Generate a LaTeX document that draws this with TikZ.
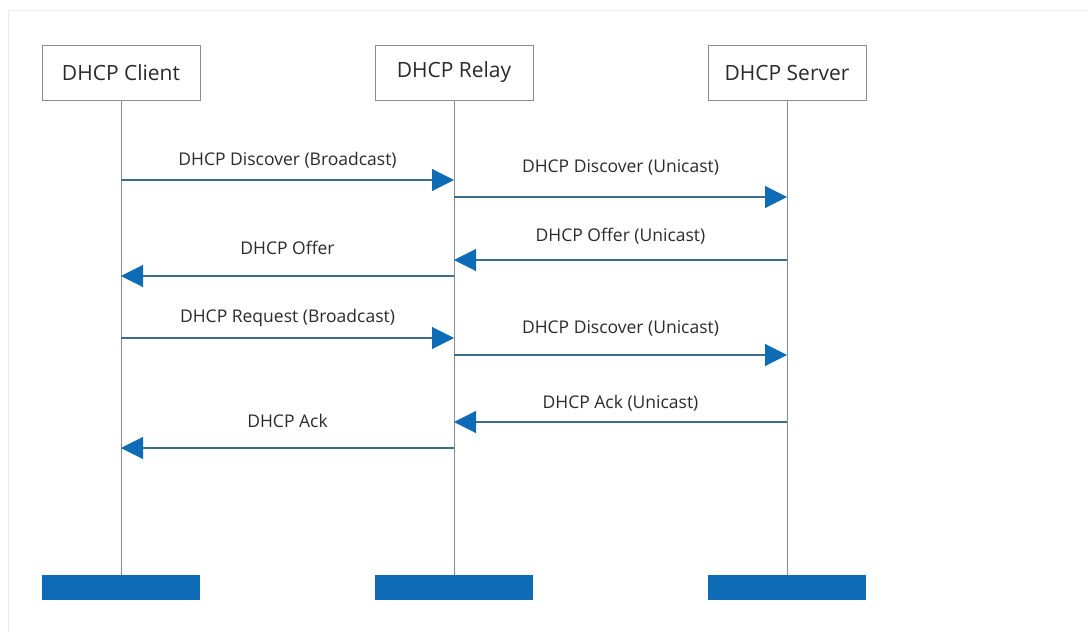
\documentclass[tikz,border=0pt]{standalone}
\usepackage{fontspec}
\setmainfont{Open Sans}
\usetikzlibrary{arrows.meta,calc}
\definecolor{dhcpBlue}{HTML}{0E6BB5}
\definecolor{dhcpLine}{HTML}{3B6C88}
\definecolor{dhcpGray}{HTML}{8C8C8C}
\definecolor{dhcpFrame}{HTML}{EBEBEB}
\definecolor{dhcpText}{HTML}{2A2A2A}
\tikzset{
  dhcp box/.style={draw=dhcpGray, line width=0.8pt, fill=white, minimum width=158pt, minimum height=55pt, inner sep=0pt, font=\fontsize{21}{24}\selectfont, text=dhcpText},
  dhcp bar/.style={fill=dhcpBlue, minimum width=158pt, minimum height=25pt, inner sep=0pt},
  dhcp life/.style={draw=dhcpGray, line width=0.9pt},
  dhcp msg/.style={draw=dhcpLine, line width=1.1pt, -{Triangle[length=22pt, width=22pt, color=dhcpBlue, fill=dhcpBlue]}},
  dhcp label/.style={font=\fontsize{17.5}{20}\selectfont, text=dhcpText, inner sep=0pt},
}

\begin{document}
\begin{tikzpicture}[x=1pt,y=-1pt]
  \useasboundingbox (0,0) rectangle (1088,632);
  \draw[dhcpFrame, line width=1pt] (8,632) -- (8,10) -- (1088,10);
  % participants and their lifelines
  \foreach \n/\x/\t in {client/121/DHCP Client, relay/454/DHCP Relay, server/787/DHCP Server} {
    \node[dhcp box] (\n) at (\x,72.5) {\t};
    \node[dhcp bar] (\n end) at (\x,587.5) {};
    \draw[dhcp life] (\n) -- (\n end);
  }
  % messages
  \foreach \a/\b/\y/\d/\t [count=\i] in {
      client/relay/180/20/DHCP Discover (Broadcast),
      relay/server/197/30/DHCP Discover (Unicast),
      server/relay/260/24/DHCP Offer (Unicast),
      relay/client/276/28/DHCP Offer,
      client/relay/338/20/DHCP Request (Broadcast),
      relay/server/355/27/DHCP Discover (Unicast),
      server/relay/422/19/DHCP Ack (Unicast),
      relay/client/448/27/DHCP Ack} {
    \coordinate (m\i from) at (\a |- 0,\y);
    \coordinate (m\i to) at (\b |- 0,\y);
    \draw[dhcp msg] (m\i from) -- (m\i to);
    \node[dhcp label] (m\i label) at ($(m\i from)!0.5!(m\i to) + (0,-\d)$) {\t};
  }
\end{tikzpicture}
\end{document}
